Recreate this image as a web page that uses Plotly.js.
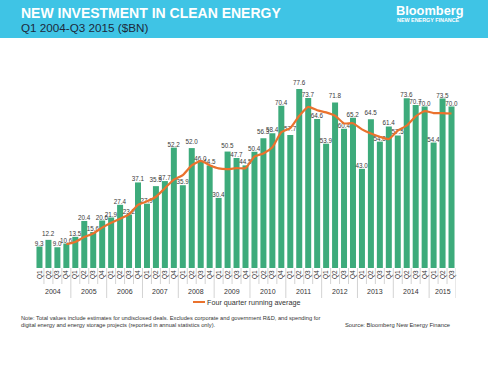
<!DOCTYPE html>
<html>
<head>
<meta charset="utf-8">
<script src="https://cdn.plot.ly/plotly-3.0.1.min.js"></script>
<style>
html,body{margin:0;padding:0;background:#fff;}
#chart{width:488px;height:366px;}
</style>
</head>
<body>
<div id="chart"></div>
<script>
// ---- data ----
const years = ['2004','2005','2006','2007','2008','2009','2010','2011','2012','2013','2014','2015'];
const quarters = ['Q1','Q2','Q3','Q4'];
const investment = [
  9.3, 12.2, 9.0, 10.6,
  13.5, 20.4, 15.6, 20.6,
  21.9, 27.4, 23.2, 37.1,
  27.9, 35.5, 37.7, 52.2,
  35.9, 52.0, 46.0, 44.5,
  30.4, 50.5, 47.7, 44.5,
  50.4, 56.3, 58.4, 70.4,
  57.7, 77.6, 73.7, 64.6,
  53.9, 71.8, 60.4, 65.2,
  43.0, 64.5, 54.8, 61.4,
  57.5, 73.6, 70.7, 70.0,
  54.4, 73.5, 70.0
];
const runningAvg = [
  null, null, null, 10.3,
  11.3, 13.4, 15.0, 17.5,
  19.6, 21.4, 23.3, 27.4,
  28.9, 30.9, 34.6, 38.3,
  40.3, 44.5, 46.5, 44.6,
  43.2, 42.9, 43.3, 43.3,
  48.3, 49.7, 52.4, 58.9,
  60.7, 66.0, 69.9, 68.4,
  67.5, 66.0, 62.7, 62.8,
  60.1, 58.3, 56.9, 55.9,
  59.6, 61.8, 65.8, 68.0,
  67.2, 67.2, 67.0
];
const titleText = 'NEW INVESTMENT IN CLEAN ENERGY';
const subtitleText = 'Q1 2004-Q3 2015 ($BN)';
const legendText = 'Four quarter running average';
const noteText = 'Note: Total values include estimates for undisclosed deals. Excludes corporate and government R&amp;D, and spending for<br>digital energy and energy storage projects (reported in annual statistics only).';
const sourceText = 'Source: Bloomberg New Energy Finance';

// ---- categories ----
const cats = [], qLabels = [], catYear = [];
for (let i = 0; i < investment.length; i++) {
  const y = years[Math.floor(i / 4)], q = quarters[i % 4];
  cats.push(y + ' ' + q); qLabels.push(q); catYear.push(y);
}

// ---- layout geometry (pixels) ----
const W = 488, Hh = 366;
const L = 35, R = 32, T = 72, B = 98;
const PW = W - L - R, PH = Hh - T - B;
const BOT = Hh - B;
const px = x => (x - L) / PW;
const py = y => (BOT - y) / PH;

const green = '#3dab7b';
const orange = '#ea722d';

const traces = [
  {
    type: 'bar', x: cats, y: investment,
    marker: {color: green},
    text: investment.map(v => v.toFixed(1)),
    textposition: 'outside', constraintext: 'none', cliponaxis: false,
    textfont: {family: 'Liberation Sans, Arial, sans-serif', size: 6.3, color: '#3a3a3a'},
    hoverinfo: 'x+y', showlegend: false
  },
  {
    type: 'scatter', mode: 'lines', x: cats, y: runningAvg,
    line: {color: orange, width: 2.2, shape: 'spline', smoothing: 0.5},
    connectgaps: false, showlegend: false, name: legendText
  }
];

const shapes = [];
// header band
shapes.push({type: 'rect', xref: 'paper', yref: 'paper', layer: 'below',
  x0: px(0), x1: px(W), y0: py(38), y1: py(0),
  line: {width: 0}, fillcolor: '#3fc4e5'});
// separators under axis
for (let k = 1; k <= investment.length; k++) {
  const isYear = (k % 4 === 0) || k === investment.length;
  shapes.push({type: 'line', xref: 'x', yref: 'paper',
    x0: k - 0.5, x1: k - 0.5, y0: 0, y1: isYear ? py(298) : py(284),
    line: {color: '#c8c8c8', width: 0.8}});
}
// legend line
shapes.push({type: 'line', xref: 'paper', yref: 'paper',
  x0: px(193), x1: px(205), y0: py(302), y1: py(302),
  line: {color: orange, width: 2}});

const font = 'Liberation Sans, Arial, sans-serif';
const annotations = [];
years.forEach((y, i) => {
  const idx = catYear.map((c, j) => c === y ? j : -1).filter(j => j >= 0);
  const mid = (idx[0] + idx[idx.length - 1]) / 2;
  annotations.push({text: y, xref: 'x', yref: 'paper', x: mid, y: py(291),
    showarrow: false, xanchor: 'center', yanchor: 'middle',
    font: {family: font, size: 7, color: '#333'}});
});
annotations.push({text: '<b>' + titleText + '</b>', xref: 'paper', yref: 'paper',
  x: px(19), y: py(13), xanchor: 'left', yanchor: 'middle', showarrow: false,
  font: {family: font, size: 14, color: '#ffffff'}});
annotations.push({text: subtitleText, xref: 'paper', yref: 'paper',
  x: px(19), y: py(28), xanchor: 'left', yanchor: 'middle', showarrow: false,
  font: {family: font, size: 11.7, color: '#1d2a3c'}});
annotations.push({text: '<b>Bloomberg</b>', xref: 'paper', yref: 'paper',
  x: px(394), y: py(10), xanchor: 'left', yanchor: 'middle', showarrow: false,
  font: {family: font, size: 12.8, color: '#ffffff'}});
annotations.push({text: '<b>NEW ENERGY FINANCE</b>', xref: 'paper', yref: 'paper',
  x: px(395), y: py(19.5), xanchor: 'left', yanchor: 'middle', showarrow: false,
  font: {family: font, size: 5.4, color: '#ffffff'}});
annotations.push({text: legendText, xref: 'paper', yref: 'paper',
  x: px(205), y: py(302), xanchor: 'left', yanchor: 'middle', showarrow: false,
  font: {family: font, size: 7.2, color: '#333'}});
annotations.push({text: noteText, xref: 'paper', yref: 'paper', align: 'left',
  x: px(19), y: py(321.5), xanchor: 'left', yanchor: 'middle', showarrow: false,
  font: {family: font, size: 5.7, color: '#333'}});
annotations.push({text: sourceText, xref: 'paper', yref: 'paper',
  x: px(343), y: py(325), xanchor: 'left', yanchor: 'middle', showarrow: false,
  font: {family: font, size: 5.8, color: '#333'}});

const layout = {
  width: W, height: Hh,
  margin: {l: L, r: R, t: T, b: B, pad: 0},
  paper_bgcolor: '#ffffff', plot_bgcolor: '#ffffff',
  bargap: 0.33,
  showlegend: false,
  xaxis: {
    type: 'category', categoryorder: 'array', categoryarray: cats,
    tickmode: 'array', tickvals: cats, ticktext: qLabels,
    tickangle: -90, ticks: '', showgrid: false, zeroline: false, showline: false,
    tickfont: {family: font, size: 6.5, color: '#333'},
    range: [-0.5, investment.length - 0.5], fixedrange: true
  },
  yaxis: {
    range: [0, 85], visible: false, showgrid: false, zeroline: false, fixedrange: true
  },
  shapes: shapes,
  annotations: annotations
};

Plotly.newPlot('chart', traces, layout, {displayModeBar: false, staticPlot: true});
</script>
</body>
</html>
